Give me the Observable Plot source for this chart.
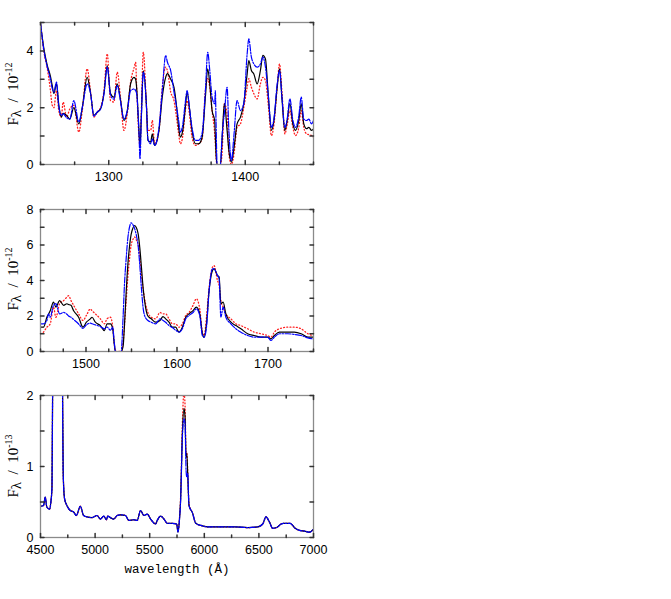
<!DOCTYPE html>
<html>
<head>
<meta charset="utf-8">
<script src="https://cdn.jsdelivr.net/npm/d3@7"></script>
<script src="https://cdn.jsdelivr.net/npm/@observablehq/plot@0.6"></script>
<style>
  html, body { margin: 0; padding: 0; background: white; }
  #root { position: relative; width: 671px; height: 599px; background: white; overflow: hidden; }
  .panel { position: absolute; left: 0; }
  .ylab { position: absolute; white-space: nowrap; font-family: "Liberation Serif", serif; font-size: 15px; color: #000;
          transform: translate(-50%, -50%) rotate(-90deg); line-height: 1; }
  .ylab sub { font-size: 15px; vertical-align: -3px; }
  .ylab sup { font-size: 10px; vertical-align: 6px; }
</style>
</head>
<body>
<div id="root"></div>
<script>
// ---------------- Panel 1 (UV, 1250-1450 Å) ----------------
const wl1 = [1250,1252.4,1254.9,1257.3,1258.5,1259.8,1261.7,1263.4,1265.2,1266.6,1269.1,1271.5,1274.4,1278.1,1280.6,1284.2,1286.7,1289.1,1291.6,1294,1296.5,1298.9,1301.3,1303.8,1306.2,1308.7,1311.1,1313.6,1316,1318.5,1319.7,1320.4,1322.1,1322.9,1323.8,1325.3,1327.7,1328.7,1330.7,1331.9,1333.6,1336.8,1339.2,1341.7,1343,1345.4,1347.8,1349.8,1351.2,1352.5,1354.2,1356.1,1357.4,1359.1,1361,1363.5,1365.9,1368.4,1370.8,1372.5,1374,1375.7,1377.6,1378.1,1378.6,1379.4,1381.8,1383,1384.7,1386.7,1388,1389.9,1391.8,1394,1396.5,1398.9,1401.4,1402.6,1404.5,1406.3,1408.7,1411.1,1412.9,1414.8,1416.8,1419.2,1421,1423.4,1425.1,1427,1429,1430.7,1432.7,1434.9,1436.8,1439.2,1441,1442.9,1444.9,1446.6,1448.6,1450];
const black1 = [4.95,4.1,3.5,3.1,2.8,2.5,2.85,2.1,1.67,1.8,1.73,1.6,2.0,1.43,2.0,3.07,2.5,1.73,1.84,1.96,2.5,3.48,2.5,2.37,2.84,2.25,1.55,1.9,2.84,3.07,3.0,2.72,1.2,0.6,1.6,3.3,2.0,0.85,0.79,1.08,0.67,1.2,2.37,3.07,3.2,3.0,2.72,2.0,1.31,0.96,1.2,2.0,2.55,2.0,1.2,0.73,0.73,0.96,2.37,3.37,2.84,1.9,1.55,1.0,0.38,0,0,0.85,2.14,1.2,0.5,0.08,0.61,1.43,1.67,2.14,3.19,3.66,3.31,3.19,2.84,3.31,3.84,3.72,2.49,1.2,1.55,2.72,3.37,2.25,1.2,1.55,2.14,1.43,1.2,1.55,2.14,1.43,1.26,1.31,1.2,1.26];
const blue1 = [5.0,4.05,3.45,3.0,2.7,2.55,2.9,2.05,1.73,1.78,1.65,1.6,2.25,1.5,2.0,2.84,2.5,1.7,1.85,1.95,2.5,3.43,2.45,2.3,2.78,2.2,1.6,1.9,2.6,2.66,2.6,2.5,1.2,0.2,1.5,3.25,1.95,0.9,0.73,0.9,0.67,1.3,2.6,3.84,3.6,3.3,2.55,2.0,1.55,1.14,1.4,2.2,2.6,2.0,1.3,0.85,0.85,1.1,2.6,3.95,3.31,2.37,2.14,2.6,1.5,0,0,1.0,1.8,2.72,1.2,0.14,1.08,2.25,1.9,2.14,3.9,4.42,3.78,3.54,3.43,3.54,3.78,3.43,2.49,1.31,1.6,2.84,3.31,2.3,1.31,1.6,2.31,1.55,1.31,1.7,2.37,1.6,1.55,1.6,1.43,1.55];
const red1 = [5.0,4.0,3.4,2.6,2.1,2.0,2.6,1.9,1.67,2.2,1.67,1.96,2.08,1.14,1.9,3.37,2.55,1.67,1.85,2.0,2.6,3.9,2.25,2.2,3.25,2.3,1.2,1.8,2.9,3.4,3.6,2.8,1.0,0.6,1.8,3.95,2.0,1.2,1.2,1.55,0.75,1.2,2.72,3.43,3.3,2.55,2.25,1.6,1.08,0.73,1.0,1.9,2.25,1.78,0.96,0.67,0.73,0.9,2.6,3.02,2.72,1.9,1.08,0.7,0.26,0,0,0.38,2.14,1.78,0.38,0,0.38,1.31,1.43,2.0,2.72,3.02,2.72,2.49,2.31,2.84,3.07,2.96,2.14,1.02,1.4,2.72,3.54,2.49,1.08,1.4,1.9,1.3,1.02,1.3,1.9,1.3,1.08,1.05,1.02,0.96];

// ---------------- Panel 2 (UV, 1450-1750 Å) ----------------
const wl2 = [1450,1453.3,1457,1458.8,1460.7,1464.3,1466.9,1471,1475.4,1479,1480.9,1483.5,1486.4,1491.9,1496.7,1500.4,1504.8,1506.6,1510.3,1515.8,1520.2,1523.2,1526.8,1529.4,1530.9,1532.4,1538.6,1540.8,1542.3,1544.1,1546,1547.8,1549.6,1551.5,1553.3,1555.1,1557.4,1559.2,1561,1562.9,1565.4,1568,1571.7,1576.5,1581.3,1584.6,1587.5,1591.2,1594.9,1598.5,1602.2,1605.9,1609.6,1613.2,1617.6,1621.3,1625,1627.9,1629.8,1632.4,1635.3,1639,1640.8,1644.5,1646.3,1648.2,1650.7,1653.7,1659.2,1664.7,1670.2,1677.6,1684.9,1692.3,1699.6,1703.3,1707,1712.5,1721.7,1729,1736.4,1743.8,1750];
const black2 = [1.37,1.37,1.93,2.1,2.3,2.78,2.5,2.87,2.6,2.69,2.65,2.6,2.3,1.93,1.37,1.65,1.84,1.93,1.65,1.46,1.18,1.56,1.56,1.28,0.5,0,0,0.3,1.5,3.3,4.9,5.9,6.6,6.95,7.1,7.0,6.6,5.8,4.7,3.5,2.5,2.0,1.84,1.65,1.75,1.97,1.84,1.65,1.37,1.37,1.09,1.37,1.93,2.12,2.3,2.5,2.12,1.0,0.8,1.56,3.44,4.56,4.66,4.28,4.19,2.69,2.78,2.12,1.65,1.46,1.28,1.0,0.9,0.81,0.81,0.71,0.9,1.09,1.09,1.09,1.0,0.81,0.81];
const blue2 = [1.56,1.56,1.75,2.12,1.93,2.6,2.7,2.12,2.2,2.1,2.0,1.93,1.8,1.55,1.3,1.5,1.6,1.56,1.5,1.4,1.28,1.37,1.2,1.37,0.6,0,0,2.0,3.8,5.2,6.4,7.0,7.25,7.15,6.95,6.6,5.9,4.8,3.5,2.4,1.9,1.75,1.65,1.56,1.84,1.75,1.65,1.46,1.35,1.2,1.09,1.28,1.84,2.03,2.2,2.4,2.03,0.9,0.81,1.37,3.44,4.66,4.66,4.28,4.1,1.93,2.5,1.93,1.56,1.28,1.09,0.9,0.81,0.81,0.81,0.62,0.81,1.0,1.0,0.96,0.9,0.77,0.71];
const red2 = [1.0,1.09,1.37,1.45,1.56,2.5,1.93,2.69,2.87,3.06,3.15,2.87,2.6,2.12,1.75,2.03,2.4,2.3,2.12,1.84,1.56,1.85,1.93,1.37,0.5,0,0,0.5,1.5,2.8,4.2,5.2,6.0,6.3,6.45,6.3,6.0,5.3,4.3,3.5,2.7,2.2,1.93,1.84,2.2,2.12,2.12,1.84,1.56,1.56,1.37,1.56,2.03,2.2,2.6,2.97,2.4,1.09,0.9,1.93,3.62,4.75,4.84,4.0,3.72,2.87,2.5,2.12,1.84,1.56,1.46,1.28,1.09,1.0,0.9,0.81,1.09,1.28,1.37,1.37,1.28,1.0,0.9];

// ---------------- Panel 3 (optical, 4500-7000 Å) ----------------
const wl3 = [4500,4528,4543,4558,4583,4595,4605,4615,4686,4698,4708,4720,4742,4773,4803,4828,4865,4895,4926,4972,5018,5048,5079,5104,5116,5140,5171,5202,5232,5278,5309,5355,5386,5416,5447,5478,5508,5554,5569,5600,5631,5661,5707,5747,5759,5772,5784,5799,5814,5824,5833,5840,5848,5860,5891,5922,5968,6029,6152,6274,6397,6489,6535,6565,6596,6626,6662,6703,6724,6764,6786,6832,6872,6918,6963,7000];
const black3 = [0.44,0.45,0.57,0.43,0.40,0.50,0.7,3.0,6.0,3.0,0.9,0.55,0.45,0.38,0.36,0.31,0.44,0.31,0.29,0.28,0.31,0.26,0.30,0.25,0.30,0.28,0.26,0.31,0.32,0.31,0.24,0.25,0.24,0.38,0.31,0.33,0.26,0.19,0.24,0.30,0.26,0.20,0.20,0.19,0.075,0.24,0.57,1.46,1.82,1.69,1.13,1.18,0.9,0.45,0.35,0.2,0.17,0.15,0.15,0.15,0.14,0.15,0.19,0.29,0.22,0.13,0.14,0.19,0.2,0.2,0.2,0.13,0.10,0.09,0.075,0.12];
const blue3 = [0.44,0.45,0.57,0.43,0.40,0.50,0.7,3.0,6.0,3.0,0.9,0.55,0.45,0.38,0.36,0.31,0.44,0.31,0.29,0.28,0.31,0.26,0.30,0.25,0.30,0.28,0.26,0.31,0.32,0.31,0.24,0.25,0.24,0.38,0.31,0.33,0.26,0.19,0.24,0.30,0.26,0.20,0.20,0.19,0.075,0.24,0.55,1.4,1.67,1.6,0.95,0.85,0.9,0.45,0.35,0.2,0.17,0.15,0.15,0.15,0.14,0.15,0.19,0.29,0.22,0.13,0.14,0.19,0.2,0.2,0.2,0.13,0.10,0.09,0.075,0.12];
const red3 = [0.44,0.45,0.57,0.43,0.40,0.50,0.7,3.0,6.0,3.0,0.9,0.55,0.45,0.38,0.36,0.31,0.44,0.31,0.29,0.28,0.31,0.26,0.30,0.25,0.30,0.28,0.26,0.31,0.32,0.31,0.24,0.25,0.24,0.38,0.31,0.33,0.26,0.19,0.24,0.30,0.26,0.20,0.20,0.19,0.09,0.26,0.62,1.6,2.05,1.85,1.2,1.2,0.95,0.47,0.35,0.2,0.17,0.15,0.15,0.15,0.14,0.15,0.19,0.29,0.22,0.13,0.14,0.19,0.2,0.2,0.2,0.13,0.10,0.09,0.075,0.12];

// ---------------- Ticks ----------------
const xTicks1 = [1250,1275,1300,1325,1350,1375,1400,1425,1450];
const xLabels1 = [1300,1400];
const yTicks1 = [0,1,2,3,4,5];
const yLabels1 = [0,2,4];

const xTicks2 = [1450,1475,1500,1525,1550,1575,1600,1625,1650,1675,1700,1725,1750];
const xLabels2 = [1500,1600,1700];
const yTicks2 = [0,1,2,3,4,5,6,7,8];
const yLabels2 = [0,2,4,6,8];

const xTicks3 = [4500,4750,5000,5250,5500,5750,6000,6250,6500,6750,7000];
const xLabels3 = [4500,5000,5500,6000,6500,7000];
const yTicks3 = [0,0.5,1,1.5,2];
const yLabels3 = [0,1,2];

const xTitle = "wavelength (Å)";
const yExp = ["-12", "-12", "-13"];

// ---------------- Drawing ----------------
const tickShape = { draw(ctx, l) { ctx.moveTo(0, 0); ctx.lineTo(0, -l); } };
const TICK = "#333";

function series(wl, ys) { return wl.map((w, i) => ({w, v: ys[i]})); }

function panel(o) {
  const marks = [
    Plot.line(series(o.wl, o.red), {x: "w", y: "v", stroke: "#ff2020", strokeWidth: 1.3, strokeDasharray: "0.9,2.3", strokeLinecap: "round", curve: "monotone-x", clip: true}),
    Plot.line(series(o.wl, o.black), {x: "w", y: "v", stroke: "#000", strokeWidth: 1.2, curve: "monotone-x", clip: true}),
    Plot.line(series(o.wl, o.blue), {x: "w", y: "v", stroke: "#0000ff", strokeWidth: 1.2, strokeDasharray: "6,1.5,1.5,1.5", curve: "monotone-x", clip: true}),
    Plot.frame({stroke: "#8a8a8a", strokeWidth: 1.3}),
    // inward ticks on all four sides
    Plot.vector(o.xTicks, {x: d => d, frameAnchor: "bottom", rotate: 0, anchor: "start", length: d => o.xLabels.includes(d) ? 4 : 2.5, shape: tickShape, stroke: TICK}),
    Plot.vector(o.xTicks, {x: d => d, frameAnchor: "top", rotate: 180, anchor: "start", length: d => o.xLabels.includes(d) ? 4 : 2.5, shape: tickShape, stroke: TICK}),
    Plot.vector(o.yTicks, {y: d => d, frameAnchor: "left", rotate: 90, anchor: "start", length: 3.5, shape: tickShape, stroke: TICK}),
    Plot.vector(o.yTicks, {y: d => d, frameAnchor: "right", rotate: -90, anchor: "start", length: 3.5, shape: tickShape, stroke: TICK}),
    Plot.axisX(o.xLabels, {anchor: "bottom", tickSize: 0, tickPadding: 8, tickFormat: d => String(d), label: null}),
    Plot.axisY(o.yLabels, {anchor: "left", tickSize: 0, tickPadding: 7, tickFormat: d => String(d), label: null})
  ];
  if (o.xTitle) {
    marks.push(Plot.text([o.xTitle], {text: d => d, frameAnchor: "bottom", dy: 31, fontFamily: "'Liberation Mono', monospace", fontSize: 12.5, lineAnchor: "middle"}));
  }
  const svg = Plot.plot({
    width: 331,
    height: o.height,
    marginLeft: 40,
    marginRight: 18,
    marginTop: 10,
    marginBottom: o.height - 152,
    style: {fontFamily: "'Liberation Sans', Arial, sans-serif", fontSize: "12.5px", color: "#000", background: "white", overflow: "visible"},
    x: {domain: o.xDomain},
    y: {domain: o.yDomain},
    length: {type: "identity"},
    marks
  });
  svg.classList.add("panel");
  svg.style.top = o.top + "px";
  svg.style.position = "absolute";
  svg.style.left = "0px";
  return svg;
}

const root = document.getElementById("root");
root.appendChild(panel({wl: wl1, black: black1, blue: blue1, red: red1, xDomain: [1250, 1450], yDomain: [0, 5],
  xTicks: xTicks1, xLabels: xLabels1, yTicks: yTicks1, yLabels: yLabels1, top: 12, height: 182}));
root.appendChild(panel({wl: wl2, black: black2, blue: blue2, red: red2, xDomain: [1450, 1750], yDomain: [0, 8],
  xTicks: xTicks2, xLabels: xLabels2, yTicks: yTicks2, yLabels: yLabels2, top: 199, height: 182}));
root.appendChild(panel({wl: wl3, black: black3, blue: blue3, red: red3, xDomain: [4500, 7000], yDomain: [0, 2],
  xTicks: xTicks3, xLabels: xLabels3, yTicks: yTicks3, yLabels: yLabels3, top: 385, height: 202, xTitle}));

const labelCenters = [94, 279, 466];
labelCenters.forEach((cy, i) => {
  const d = document.createElement("div");
  d.className = "ylab";
  d.style.left = "14px";
  d.style.top = cy + "px";
  d.innerHTML = "F<sub>λ</sub>&nbsp;&nbsp;/&nbsp;&nbsp;10<sup>" + yExp[i] + "</sup>";
  root.appendChild(d);
});
</script>
</body>
</html>
